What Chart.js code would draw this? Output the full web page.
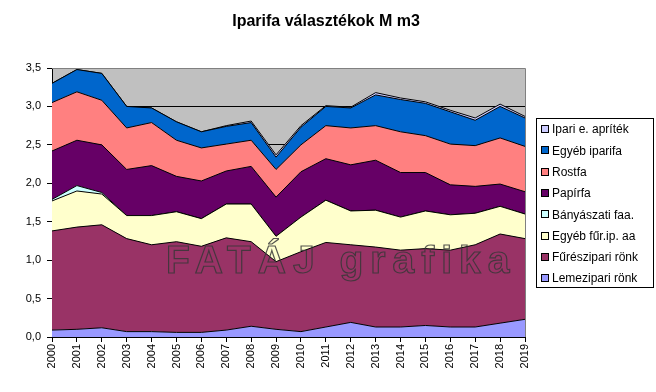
<!DOCTYPE html>
<html>
<head>
<meta charset="utf-8">
<script src="https://cdn.jsdelivr.net/npm/chart.js@4.4.0/dist/chart.umd.min.js"></script>
<style>
  body { margin: 0; background: #fff; }
  #wrap { width: 656px; height: 392px; }
</style>
</head>
<body>
<div id="wrap"><canvas id="c" width="656" height="392"></canvas></div>
<script>
  var years = ['2000','2001','2002','2003','2004','2005','2006','2007','2008','2009',
               '2010','2011','2012','2013','2014','2015','2016','2017','2018','2019'];

  // million m3 (series stacked bottom -> top)
  var lemezipari   = [0.09,0.10,0.12,0.07,0.07,0.06,0.06,0.09,0.14,0.10,0.07,0.13,0.19,0.13,0.13,0.15,0.13,0.13,0.18,0.23];
  var fureszipari  = [1.29,1.33,1.34,1.21,1.13,1.18,1.12,1.20,1.10,0.88,1.04,1.10,1.01,1.04,1.00,1.00,1.00,1.07,1.16,1.05];
  var egyebFurIp   = [0.39,0.47,0.40,0.30,0.38,0.39,0.36,0.44,0.49,0.33,0.45,0.55,0.44,0.48,0.43,0.49,0.46,0.41,0.36,0.32];
  var banyaszati   = [0.02,0.07,0.02,0,0,0,0,0,0,0,0,0,0,0,0,0,0,0,0,0];
  var papirfa      = [0.63,0.59,0.62,0.60,0.65,0.46,0.49,0.43,0.49,0.51,0.59,0.54,0.60,0.65,0.58,0.50,0.39,0.35,0.29,0.29];
  var rostfa       = [0.63,0.63,0.58,0.54,0.56,0.47,0.43,0.35,0.34,0.36,0.35,0.43,0.48,0.45,0.53,0.48,0.53,0.53,0.60,0.59];
  var egyebIparifa = [0.25,0.29,0.35,0.28,0.19,0.24,0.21,0.23,0.23,0.16,0.23,0.25,0.26,0.40,0.42,0.42,0.42,0.33,0.41,0.37];
  var ipariApritek = [0,0,0,0,0,0,0,0.01,0.02,0.03,0.02,0.01,0.01,0.03,0.02,0.02,0.02,0.03,0.03,0.02];

  var yTicks = [0, 0.5, 1, 1.5, 2, 2.5, 3, 3.5];

  var FONT = "Arial, 'Liberation Sans', sans-serif";
  var TITLE = 'Iparifa választékok M m3';

  var series = [
    { label: 'Lemezipari rönk',   data: lemezipari,   color: '#9999FF' },
    { label: 'Fűrészipari rönk',  data: fureszipari,  color: '#993366' },
    { label: 'Egyéb fűr.ip. aa',  data: egyebFurIp,   color: '#FFFFCC' },
    { label: 'Bányászati faa.',   data: banyaszati,   color: '#CCFFFF' },
    { label: 'Papírfa',           data: papirfa,      color: '#660066' },
    { label: 'Rostfa',            data: rostfa,       color: '#FF8080' },
    { label: 'Egyéb iparifa',     data: egyebIparifa, color: '#0066CC' },
    { label: 'Ipari e. apríték',  data: ipariApritek, color: '#CCCCFF' }
  ];

  var datasets = series.map(function(s, i) {
    return {
      label: s.label,
      data: s.data,
      backgroundColor: s.color,
      borderColor: '#000',
      borderWidth: 1,
      fill: i === 0 ? 'origin' : '-1',
      tension: 0,
      pointRadius: 0,
      pointHoverRadius: 0
    };
  });

  // grey plot background, title, borders, watermark and boxed legend
  var excelLook = {
    id: 'excelLook',
    beforeDraw: function(chart) {
      var a = chart.chartArea, ctx = chart.ctx;
      ctx.save();
      ctx.fillStyle = '#C0C0C0';
      ctx.fillRect(a.left, a.top, a.right - a.left, a.bottom - a.top);
      ctx.fillStyle = '#000';
      ctx.font = 'bold 16px ' + FONT;
      ctx.textAlign = 'center';
      ctx.textBaseline = 'middle';
      ctx.fillText(TITLE, 326, 22);
      ctx.restore();
    },
    afterDatasetsDraw: function(chart) {
      var a = chart.chartArea, ctx = chart.ctx;
      ctx.save();
      // watermark
      ctx.font = 'bold 39px ' + FONT;
      if ('letterSpacing' in ctx) ctx.letterSpacing = '7px';
      ctx.textAlign = 'left';
      ctx.textBaseline = 'alphabetic';
      ctx.lineWidth = 1.2;
      ctx.strokeStyle = 'rgba(55,55,55,0.85)';
      ctx.strokeText('FATÁJ grafika', 166, 273);
      ctx.restore();

      ctx.save();
      ctx.strokeStyle = '#808080';
      ctx.lineWidth = 1;
      ctx.beginPath();
      ctx.moveTo(a.left, a.top + 0.5);
      ctx.lineTo(a.right + 0.5, a.top + 0.5);
      ctx.lineTo(a.right + 0.5, a.bottom);
      ctx.stroke();
      ctx.restore();
    },
    afterDraw: function(chart) {
      var ctx = chart.ctx;
      var items = chart.data.datasets.slice().reverse();
      var x = 536, y = 118, w = 117, h = 169;
      ctx.save();
      ctx.fillStyle = '#fff';
      ctx.fillRect(x, y, w, h);
      ctx.strokeStyle = '#000';
      ctx.lineWidth = 1;
      ctx.strokeRect(x + 0.5, y + 0.5, w, h);
      ctx.font = '12px ' + FONT;
      ctx.textBaseline = 'middle';
      ctx.textAlign = 'left';
      items.forEach(function(ds, i) {
        var cy = y + 11 + i * 21.3;
        ctx.fillStyle = ds.backgroundColor;
        ctx.fillRect(x + 5, Math.round(cy) - 4, 8, 8);
        ctx.strokeStyle = '#000';
        ctx.strokeRect(x + 5.5, Math.round(cy) - 3.5, 7, 7);
        ctx.fillStyle = '#000';
        ctx.fillText(ds.label, x + 16, cy + 1);
      });
      ctx.restore();
    }
  };

  new Chart(document.getElementById('c'), {
    type: 'line',
    data: { labels: years, datasets: datasets },
    plugins: [excelLook],
    options: {
      responsive: false,
      animation: false,
      events: [],
      layout: { padding: { left: 0, right: 131, top: 68, bottom: 0 } },
      plugins: {
        legend: { display: false },
        tooltip: { enabled: false },
        title: { display: false }
      },
      scales: {
        x: {
          offset: false,
          grid: { drawOnChartArea: false, color: '#000', tickLength: 5 },
          border: { color: '#000' },
          ticks: {
            color: '#000', font: { family: FONT, size: 11 },
            minRotation: 90, maxRotation: 90, autoSkip: false, padding: 2
          },
          afterFit: function(s) { s.height = 55; }
        },
        y: {
          stacked: true,
          min: 0, max: 3.5,
          afterBuildTicks: function(s) { s.ticks = yTicks.map(function(v) { return { value: v }; }); },
          grid: { color: '#000', tickLength: 5 },
          border: { color: '#000' },
          ticks: {
            color: '#000', font: { family: FONT, size: 11 }, padding: 6,
            callback: function(v) { return v.toFixed(1).replace('.', ','); }
          },
          afterFit: function(s) { s.width = 52; }
        }
      }
    }
  });
</script>
</body>
</html>
